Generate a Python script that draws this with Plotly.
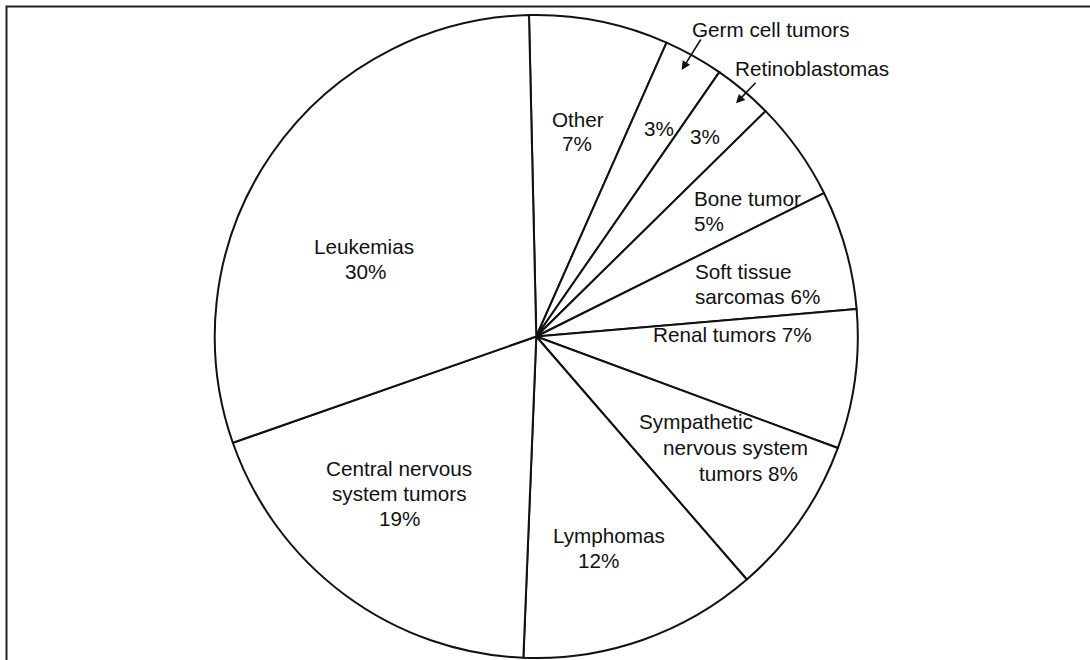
import plotly.graph_objects as go

# Childhood cancer types, share of cases (%), listed clockwise from 12 o'clock
categories = [
    "Other", "Germ cell tumors", "Retinoblastomas", "Bone tumor",
    "Soft tissue sarcomas", "Renal tumors", "Sympathetic nervous system tumors",
    "Lymphomas", "Central nervous system tumors", "Leukemias",
]
shares = [7, 3, 3, 5, 6, 7, 8, 12, 19, 30]

W, H = 1090, 660
FONT = dict(family="Liberation Sans, Arial, Helvetica, sans-serif", size=20.7, color="#111")


def px(x, y):
    """Pixel position (from top-left) to paper coordinates."""
    return x / W, 1 - y / H


fig = go.Figure(
    go.Pie(
        labels=categories,
        values=shares,
        sort=False,
        direction="clockwise",
        rotation=-1.3,
        textinfo="none",
        hoverinfo="label+value",
        showlegend=False,
        marker=dict(colors=["white"] * len(shares), line=dict(color="#111", width=2)),
        domain=dict(x=[0.192, 0.792], y=[0.003, 0.9773]),
    )
)

# Slice captions: (text, centre x, centre y) in pixels
captions = [
    ("Leukemias", 364, 246), ("30%", 365, 271),
    ("Central nervous", 399, 468), ("system tumors", 399, 493), ("19%", 399, 518),
    ("Lymphomas", 609, 535), ("12%", 598, 560),
    ("Sympathetic", 696, 421), ("nervous system", 735, 447), ("tumors 8%", 748, 473),
    ("Renal tumors 7%", 732, 334),
    ("Soft tissue", 743, 271), ("sarcomas 6%", 757, 297),
    ("Bone tumor", 747, 198), ("5%", 709, 223),
    ("Other", 578, 119), ("7%", 577, 144),
    ("3%", 659, 128), ("3%", 705, 137),
    ("Germ cell tumors", 770, 29), ("Retinoblastomas", 812, 68),
]

annotations = []
for text, x, y in captions:
    ax_, ay_ = px(x, y)
    annotations.append(dict(
        text=text, x=ax_, y=ay_, xref="paper", yref="paper",
        xanchor="center", yanchor="middle", showarrow=False, font=FONT,
    ))

# Pointers from the outside captions into the two thin slices: (head x, head y, dx, dy)
pointers = [(681.7, 70, 20, -32), (736, 103.3, 21, -22)]
for hx, hy, dx, dy in pointers:
    x_, y_ = px(hx, hy)
    annotations.append(dict(
        text="", x=x_, y=y_, xref="paper", yref="paper",
        showarrow=True, ax=dx, ay=dy, arrowhead=2, arrowsize=1.1,
        arrowwidth=1.6, arrowcolor="#111",
    ))

# Frame along the top and left edges
x0, y1 = px(6.5, 6.5)
shapes = [dict(
    type="rect", xref="paper", yref="paper",
    x0=x0, x1=1.05, y0=-0.05, y1=y1,
    line=dict(color="#222", width=2), fillcolor="rgba(0,0,0,0)",
)]

fig.update_layout(
    width=W, height=H,
    margin=dict(l=0, r=0, t=0, b=0),
    paper_bgcolor="white", plot_bgcolor="white",
    annotations=annotations, shapes=shapes,
)

fig.write_html("out.html")
